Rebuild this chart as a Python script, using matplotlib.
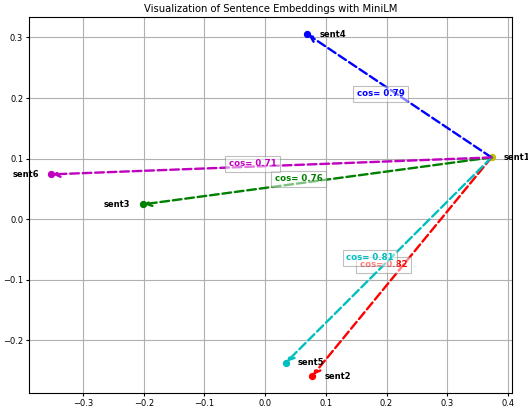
import numpy as np
import matplotlib
matplotlib.use('Agg')
import matplotlib.pyplot as plt

# 2D projections of the sentence embeddings
names = ['sent1', 'sent2', 'sent3', 'sent4', 'sent5', 'sent6']
xs = [0.373, 0.0775, -0.202, 0.0692, 0.034, -0.353]
ys = [0.102, -0.259, 0.0244, 0.3056, -0.237, 0.074]
colors = ['y', 'r', 'g', 'b', 'c', 'm']
cos_sim = [None, 0.82, 0.76, 0.79, 0.81, 0.71]

fig = plt.figure(figsize=(5.28, 4.12), dpi=100)
ax = fig.add_axes([0.055, 0.046, 0.915, 0.913])

for i in range(len(names)):
	ax.scatter(xs[i], ys[i], color=colors[i], s=18, zorder=2)

for i in range(1, len(names)):
	ax.annotate('', xy=(xs[i], ys[i]), xytext=(xs[0], ys[0]),
		arrowprops=dict(arrowstyle='->', color=colors[i], lw=1.7, linestyle='--',
			shrinkA=0, shrinkB=1))
	mx = (xs[0] + xs[i]) / 2 - 0.0305
	my = (ys[0] + ys[i]) / 2 + 0.0036
	ax.text(mx, my, 'cos= %.2f' % cos_sim[i], color=colors[i], fontsize=6.2,
		fontweight='bold', ha='center', va='center',
		bbox=dict(facecolor='white', alpha=0.5, edgecolor='gray', pad=2.5, lw=0.8))

for i in range(len(names)):
	if xs[i] < 0:
		ax.text(xs[i] - 0.02, ys[i], names[i], fontsize=6, fontweight='bold', ha='right', va='center')
	else:
		ax.text(xs[i] + 0.02, ys[i], names[i], fontsize=6, fontweight='bold', ha='left', va='center')

ax.set_xlim(-0.389, 0.407)
ax.set_ylim(-0.287, 0.334)
ax.set_xticks([-0.3, -0.2, -0.1, 0.0, 0.1, 0.2, 0.3, 0.4])
ax.set_yticks([-0.2, -0.1, 0.0, 0.1, 0.2, 0.3])
ax.tick_params(labelsize=6, length=2.2, pad=2)
ax.grid(True, color='#b0b0b0', lw=0.8)
ax.set_axisbelow(True)
ax.set_title('Visualization of Sentence Embeddings with MiniLM', fontsize=7.2, pad=3.5)

plt.savefig('out.png', dpi=100)
